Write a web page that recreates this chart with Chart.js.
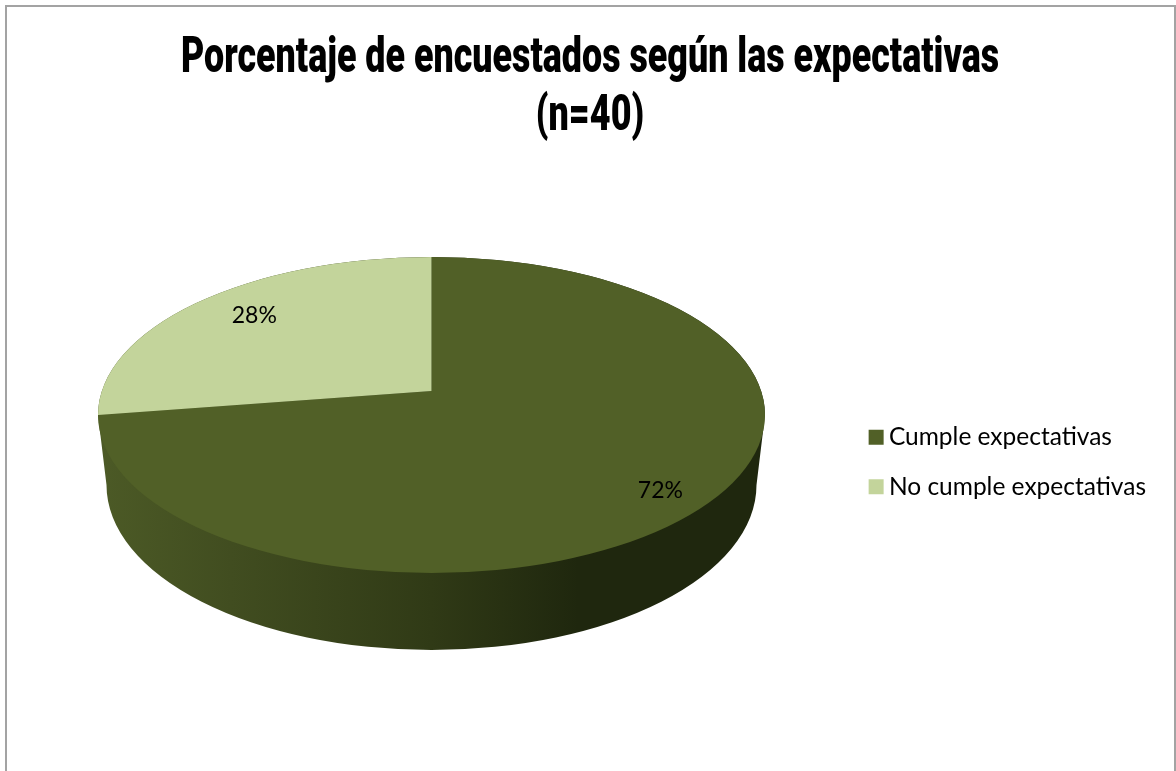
<!DOCTYPE html>
<html><head><meta charset="utf-8">
<script src="https://cdn.jsdelivr.net/npm/chart.js@4"></script>
<style>
html,body{margin:0;padding:0;background:#fff;width:1176px;height:771px;overflow:hidden}
#wrap{position:relative;width:1176px;height:771px;overflow:hidden}
canvas{position:absolute;left:0;top:0}
#frame{position:absolute;left:5px;top:5px;width:1167px;height:820px;border:2px solid #a3a3a3;pointer-events:none}
</style></head><body>
<div id="wrap"><canvas id="c" width="1176" height="771"></canvas><div id="frame"></div></div>
<script>
const categories = ['Cumple expectativas', 'No cumple expectativas'];
const values = [72, 28];
const sliceColors = ['#516027', '#c3d49b'];
const titleLines = ['Porcentaje de encuestados según las expectativas', '(n=40)'];

// 3D projection of the pie: top face ellipse, apex, and extruded wall
const top3d = {cx: 431.5, cy: 415, rx: 333.5, ry: 158, apexX: 431.5, apexY: 391, squash: 0.377};
const wall3d = {cy: 485, rx: 325, ry: 165};
const labelRadii = [[297, 157], [230, 119]];
const titleFont = {family: 'Roboto', size: 50, weight: '900', lineHeight: 1.15};
const titleWidth = 822, titleCenter = 590;

const pie3d = {
  id: 'pie3d',
  beforeDatasetsDraw(chart) {
    const ctx = chart.ctx, arc = chart.getDatasetMeta(0).data[0];
    ctx.save();
    const g = ctx.createLinearGradient(top3d.cx - top3d.rx, 0, top3d.cx + top3d.rx, 0);
    g.addColorStop(0, '#4c5a26');
    g.addColorStop(0.2, '#414d20');
    g.addColorStop(0.5, '#303a16');
    g.addColorStop(0.72, '#1f270e');
    g.addColorStop(1, '#1f270e');
    ctx.fillStyle = g;
    ctx.beginPath();
    ctx.ellipse(top3d.cx, top3d.cy, top3d.rx, top3d.ry, 0, Math.PI, 0, false);
    ctx.lineTo(top3d.cx + wall3d.rx, wall3d.cy);
    ctx.ellipse(top3d.cx, wall3d.cy, wall3d.rx, wall3d.ry, 0, 0, Math.PI, false);
    ctx.closePath();
    ctx.fill();
    ctx.beginPath();
    ctx.ellipse(top3d.cx, top3d.cy, top3d.rx, top3d.ry, 0, 0, Math.PI * 2);
    ctx.clip();
    const s = 900 / arc.outerRadius, k = top3d.squash;
    ctx.transform(s, 0, 0, k * s, top3d.apexX - s * arc.x, top3d.apexY - k * s * arc.y);
  },
  afterDatasetsDraw(chart) {
    const ctx = chart.ctx;
    ctx.restore();
    ctx.save();
    ctx.font = '23px Lato';
    ctx.fillStyle = '#000';
    ctx.textAlign = 'center';
    ctx.textBaseline = 'middle';
    chart.getDatasetMeta(0).data.forEach((a, i) => {
      const mid = (a.startAngle + a.endAngle) / 2 + Math.PI / 2;
      const x = top3d.apexX + Math.sin(mid) * labelRadii[i][0];
      const y = top3d.apexY - Math.cos(mid) * labelRadii[i][1];
      ctx.fillText(values[i] + '%', x, y);
    });
    ctx.restore();
  },
  afterLayout(chart) {
    const t = chart.titleBlock;
    if (t._wrapped) return;
    t._wrapped = true;
    const orig = t.draw.bind(t);
    t.draw = function () {
      const ctx = chart.ctx;
      ctx.save();
      ctx.font = `${titleFont.weight} ${titleFont.size}px ${titleFont.family}`;
      const sx = titleWidth / ctx.measureText(titleLines[0]).width;
      ctx.restore();
      ctx.save();
      ctx.translate(titleCenter, 0);
      ctx.scale(sx, 1);
      ctx.translate(-chart.width / 2, 0);
      orig();
      ctx.restore();
    };
  }
};

new Chart(document.getElementById('c'), {
  type: 'pie',
  data: {labels: categories, datasets: [{data: values, backgroundColor: sliceColors, borderWidth: 0, clip: false}]},
  options: {
    responsive: false, animation: false,
    layout: {padding: {top: 31, right: 20, bottom: 0, left: 20}},
    plugins: {
      tooltip: {enabled: false},
      title: {display: true, text: titleLines, color: '#000', font: titleFont, padding: {top: 0, bottom: 7}},
      legend: {position: 'right', fullSize: false,
        labels: {boxWidth: 1, boxHeight: 1, padding: 25, color: '#000', font: {family: 'Lato', size: 24.5},
          generateLabels(chart) {
            return Chart.overrides.pie.plugins.legend.labels.generateLabels(chart).map(it => {
              it.lineWidth = 14; it.strokeStyle = it.fillStyle; it.lineJoin = 'miter'; return it;
            });
          }}}
    }
  },
  plugins: [pie3d]
});
</script>
</body></html>
